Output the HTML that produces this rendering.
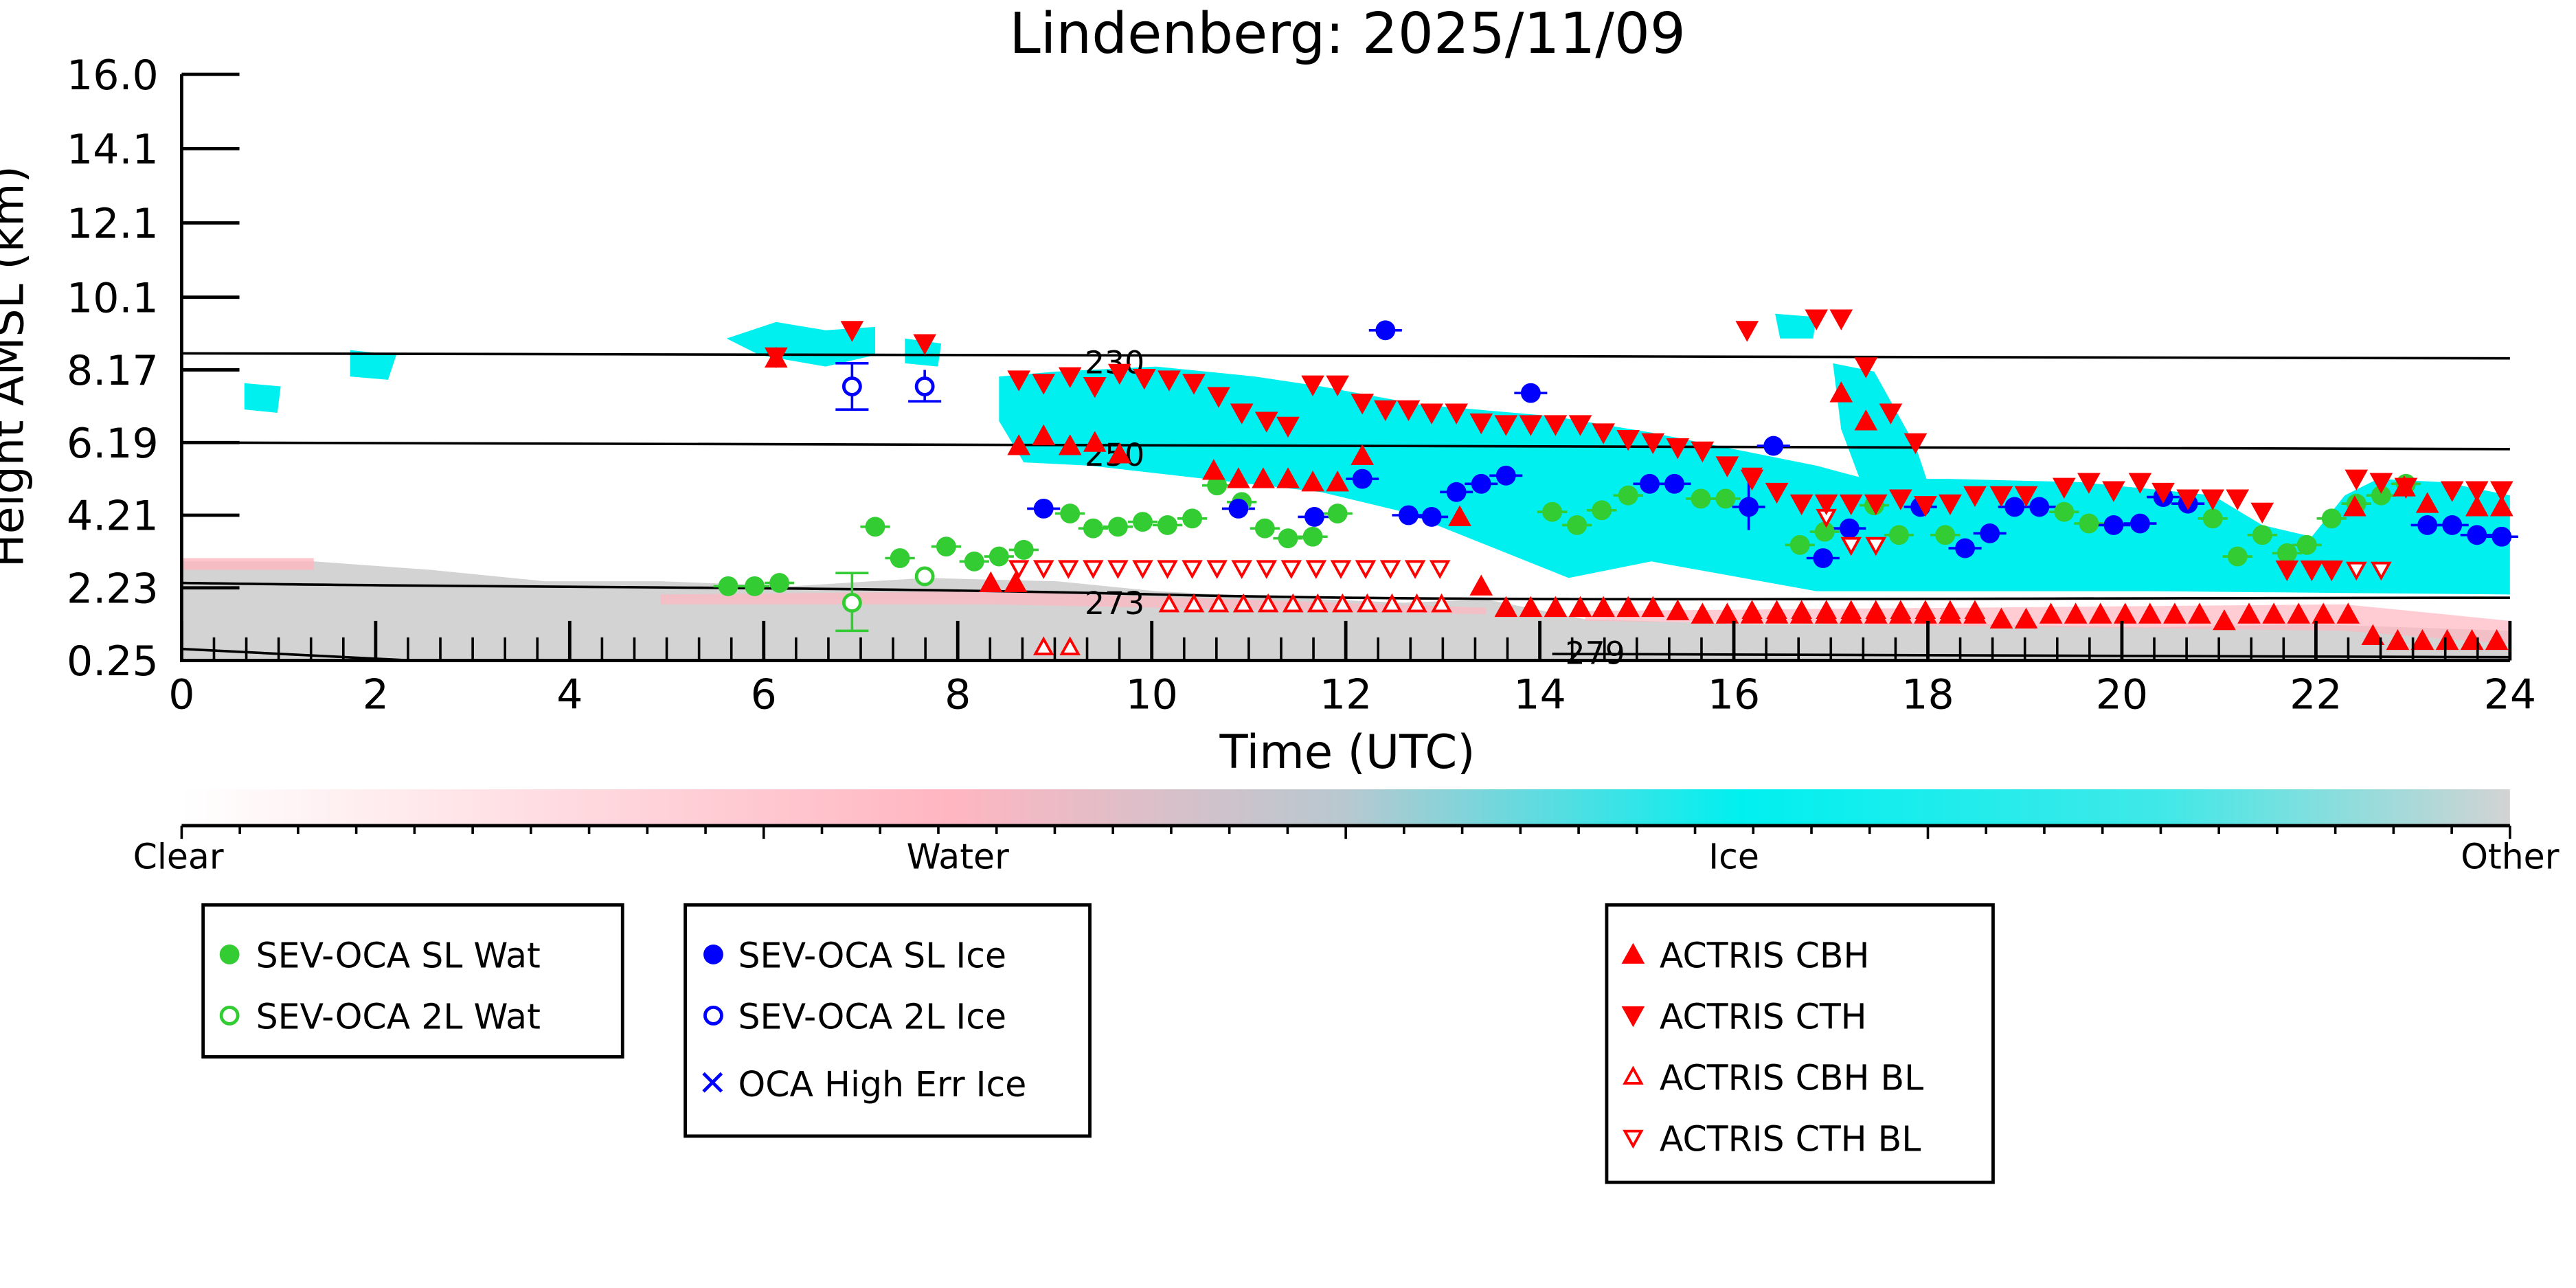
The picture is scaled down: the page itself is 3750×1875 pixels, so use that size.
<!DOCTYPE html>
<html><head><meta charset="utf-8"><style>
html,body{margin:0;padding:0;background:#fff;}
svg{display:block;}
text{font-family:"DejaVu Sans","Liberation Sans",sans-serif;fill:#000;}
</style></head><body>
<svg id="s" width="3750" height="1875" viewBox="0 0 1560 780" xmlns="http://www.w3.org/2000/svg">
<defs>
<linearGradient id="cb" x1="0" x2="1" y1="0" y2="0">
<stop offset="0" stop-color="#ffffff"/><stop offset="0.33" stop-color="#ffb6c1"/>
<stop offset="0.5" stop-color="#b8c8d0"/><stop offset="0.67" stop-color="#00f0f0"/>
<stop offset="0.85" stop-color="#40e8e8"/><stop offset="1" stop-color="#d3d3d3"/>
</linearGradient>
</defs>
<text x="816" y="32" font-size="34" text-anchor="middle">Lindenberg: 2025/11/09</text>
<g id="data">
<polygon fill="#d3d3d3" points="110,340 190,340 260,345 330,352 400,352 480,355 560,350 640,352 700,358 780,362 850,365 900,363 960,375 1060,378 1200,378 1300,380 1400,378 1520,382 1520,400 110,400"/>
<polygon fill="#ffb6c1" opacity="0.8" points="110,338 190,338 190,345 110,345"/>
<polygon fill="#ffb6c1" opacity="0.7" points="400,360 600,358 900,368 900,372 600,366 400,366"/>
<polygon fill="#ffb6c1" opacity="0.7" points="960,370 1420,366 1520,376 1520,390 1420,382 960,376"/>
<polygon fill="#00f0f0" points="605,228 640,225 700,222 760,228 800,234 860,245 940,252 1000,262 1050,272 1100,282 1130,290 1180,290 1260,292 1340,300 1370,318 1400,325 1420,300 1440,290 1480,292 1520,300 1520,360 1300,358 1100,358 1000,340 950,350 900,330 850,310 800,298 730,290 660,282 620,280 605,255"/>
<polygon fill="#00f0f0" points="1110,220 1135,225 1160,270 1170,300 1130,300 1115,260"/>
<polygon fill="#00f0f0" points="440,205 470,195 500,200 530,198 530,215 500,222 460,215"/>
<polygon fill="#00f0f0" points="148,232 170,234 168,250 148,248"/>
<polygon fill="#00f0f0" points="212,212 240,215 235,230 212,228"/>
<polygon fill="#00f0f0" points="548,205 570,208 568,222 548,220"/>
<polygon fill="#00f0f0" points="1075,190 1100,192 1098,205 1078,205"/>
<polygon fill="#00f0f0" points="1290,295 1340,300 1330,310 1290,305"/>
</g>
<g id="contours" fill="none" stroke="#000" stroke-width="1.5">
<path d="M110,214 L1520,217"/>
<path d="M110,268 L1520,272"/>
<path d="M110,353 C300,356 500,355 700,360 C900,365 1200,362 1520,362"/>
<path d="M110,393 L250,400"/>
<path d="M940,396 L1520,398"/>
</g>
<text x="675" y="226" font-size="19" text-anchor="middle">230</text>
<text x="675" y="282" font-size="19" text-anchor="middle">250</text>
<text x="675" y="372" font-size="19" text-anchor="middle">273</text>
<text x="966" y="402" font-size="19" text-anchor="middle">279</text>
<g id="marks"></g>
<g id="axes" stroke="#000" stroke-width="2"></g>
<g font-size="25" text-anchor="end">
<text x="96" y="54">16.0</text><text x="96" y="99">14.1</text><text x="96" y="144">12.1</text>
<text x="96" y="189">10.1</text><text x="96" y="233">8.17</text><text x="96" y="277">6.19</text>
<text x="96" y="321">4.21</text><text x="96" y="365">2.23</text><text x="96" y="409">0.25</text>
</g>
<g font-size="25" text-anchor="middle" id="xl"></g>
<text x="816" y="465" font-size="28" text-anchor="middle">Time (UTC)</text>
<text transform="translate(14,222) rotate(-90)" font-size="27" text-anchor="middle">Height AMSL (km)</text>
<rect x="110" y="478" width="1410" height="22" fill="url(#cb)"/>
<line x1="110" y1="500" x2="1520" y2="500" stroke="#000" stroke-width="2"/>
<g id="cbt" stroke="#000" stroke-width="1.5"></g>
<g font-size="21" text-anchor="middle">
<text x="108" y="526">Clear</text><text x="580" y="526">Water</text><text x="1050" y="526">Ice</text><text x="1520" y="526">Other</text>
</g>
<g fill="none" stroke="#000" stroke-width="2">
<rect x="123" y="548" width="254" height="92"/>
<rect x="415" y="548" width="245" height="140"/>
<rect x="973" y="548" width="234" height="168"/>
</g>
<g font-size="21">
<text x="155" y="586">SEV-OCA SL Wat</text><text x="155" y="623">SEV-OCA 2L Wat</text>
<text x="447" y="586">SEV-OCA SL Ice</text><text x="447" y="623">SEV-OCA 2L Ice</text><text x="447" y="664">OCA High Err Ice</text>
<text x="1005" y="586">ACTRIS CBH</text><text x="1005" y="623">ACTRIS CTH</text><text x="1005" y="660">ACTRIS CBH BL</text><text x="1005" y="697">ACTRIS CTH BL</text>
</g>
<g id="leg"></g>
</svg>
<script>
var NS="http://www.w3.org/2000/svg";
function el(p,t,a){var e=document.createElementNS(NS,t);for(var k in a)e.setAttribute(k,a[k]);document.getElementById(p).appendChild(e);return e;}
function circ(p,x,y,c,fill){el(p,"circle",{cx:x,cy:y,r:fill?6:5,fill:fill?c:"#fff",stroke:c,"stroke-width":fill?0:2});}
function tri(p,x,y,up,fill){var s=fill?7:5;var pts=up?[x,y-s,x-s,y+s*0.8,x+s,y+s*0.8]:[x,y+s,x-s,y-s*0.8,x+s,y-s*0.8];
el(p,"polygon",{points:pts.join(","),fill:fill?"#f00":"#fff",stroke:"#f00","stroke-width":fill?0:1.6});}
var gf="441,355;457,355;472,353;530,319;545,338;573,331;590,340;605,337;620,333;648,311;662,320;677,319;692,316;707,318;722,314;737,294;752,304;766,320;780,326;795,325;810,311;940,310;955,318;970,309;986,300;1030,302;1045,302;1090,330;1105,322;1135,306;1150,324;1178,324;1250,310;1265,317;1340,314;1355,337;1370,324;1385,335;1397,330;1412,314;1427,305;1442,300;1457,293";
var bf="632,308;750,308;796,313;825,290;839,200;853,312;867,313;882,298;897,293;912,288;927,238;999,293;1014,293;1059,307;1074,270;1104,338;1120,320;1163,307;1190,332;1205,323;1220,307;1235,307;1280,318;1296,317;1310,301;1325,305;1470,318;1485,318;1500,324;1515,325";
var ru="470,217;600,353;615,353;617,270;632,264;648,270;663,268;678,275;735,285;750,290;765,290;780,290;795,292;810,292;825,276;884,313;897,355;912,368;927,368;942,368;957,368;971,368;986,368;1001,368;1016,370;1031,372;1046,372;1061,372;1076,372;1091,372;1106,372;1121,372;1136,372;1151,372;1166,372;1181,372;1196,372;1212,375;1227,375;1242,372;1257,372;1272,372;1287,372;1302,372;1317,372;1332,372;1347,376;1362,372;1377,372;1392,372;1407,372;1422,372;1437,385;1452,388;1467,388;1482,388;1497,388;1512,388;1130,255;1115,238;1426,307;1456,295;1470,305;1500,307;1515,307";
var rd="470,216;516,200;560,208;617,230;632,232;648,228;663,234;678,226;693,229;708,230;723,232;738,240;752,250;767,255;780,258;795,233;810,233;825,244;839,248;853,248;867,250;882,250;897,256;912,257;927,257;942,257;957,257;971,262;986,266;1001,268;1016,271;1031,273;1046,282;1061,290;1076,298;1091,305;1106,305;1121,305;1136,305;1151,302;1166,306;1181,305;1196,300;1212,300;1227,300;1250,295;1265,292;1280,297;1296,292;1310,298;1325,302;1340,302;1355,302;1370,310;1385,345;1400,345;1412,345;1427,290;1442,292;1457,295;1485,297;1500,297;1515,297;1058,200;1100,193;1115,193;1130,222;1145,250;1160,268";
function each(s,f){s.split(";").forEach(function(p){var a=p.split(",").map(Number);f(a[0],a[1]);});}
function ln(x1,y1,x2,y2,c){el("marks","line",{x1:x1,y1:y1,x2:x2,y2:y2,stroke:c,"stroke-width":1.5});}
ln(516,220,516,248,"#00f");ln(506,220,526,220,"#00f");ln(506,248,526,248,"#00f");
ln(560,224,560,243,"#00f");ln(550,243,570,243,"#00f");
ln(516,347,516,382,"#3c3");ln(506,347,526,347,"#3c3");ln(506,382,526,382,"#3c3");
ln(1059,292,1059,321,"#00f");
each(gf,function(x,y){ln(x-9,y,x+9,y,"#3c3");});
each(bf,function(x,y){ln(x-10,y,x+10,y,"#00f");});
each(gf,function(x,y){circ("marks",x,y,"#3c3",1);});
circ("marks",516,365,"#3c3",0);circ("marks",560,349,"#3c3",0);
each(bf,function(x,y){circ("marks",x,y,"#00f",1);});
circ("marks",516,234,"#00f",0);circ("marks",560,234,"#00f",0);
for(var x=617;x<=882;x+=15)tri("marks",x,344,0,0);
each("1061,288;1106,313;1121,330;1136,330;1427,345;1442,345",function(x,y){tri("marks",x,y,0,0);});
tri("marks",632,392,1,0);tri("marks",648,392,1,0);
for(var x=708;x<=882;x+=15)tri("marks",x,366,1,0);
for(var x=1061;x<=1196;x+=15)tri("marks",x,370,1,0);
each(ru,function(x,y){tri("marks",x,y,1,1);});
each(rd,function(x,y){tri("marks",x,y,0,1);});
el("axes","line",{x1:110,y1:45,x2:110,y2:401});
el("axes","line",{x1:109,y1:400,x2:1520,y2:400});
[45,90,135,180,224,268,312,356,400].forEach(function(y){el("axes","line",{x1:110,y1:y,x2:145,y2:y});});
for(var h=0;h<=24;h+=1/3){var X=110+58.75*h;var maj=Math.abs(h/2-Math.round(h/2))<0.01;
el("axes","line",{x1:X,y1:400,x2:X,y2:maj?376:386,"stroke-width":maj?2:1.5});}
for(var h=0;h<=24;h+=2)el("xl","text",{x:110+58.75*h,y:429}).textContent=h;
for(var i=0;i<=40;i++){var X=110+1410*i/40;var maj=i%10==0;el("cbt","line",{x1:X,y1:500,x2:X,y2:maj?508:505});}
circ("leg",139,578,"#3c3",1);circ("leg",139,615,"#3c3",0);
circ("leg",432,578,"#00f",1);circ("leg",432,615,"#00f",0);
el("leg","path",{d:"M426,650 L437,661 M437,650 L426,661",stroke:"#00f","stroke-width":2});
tri("leg",989,578,1,1);tri("leg",989,615,0,1);tri("leg",989,652,1,0);tri("leg",989,689,0,0);
</script>
</body></html>
